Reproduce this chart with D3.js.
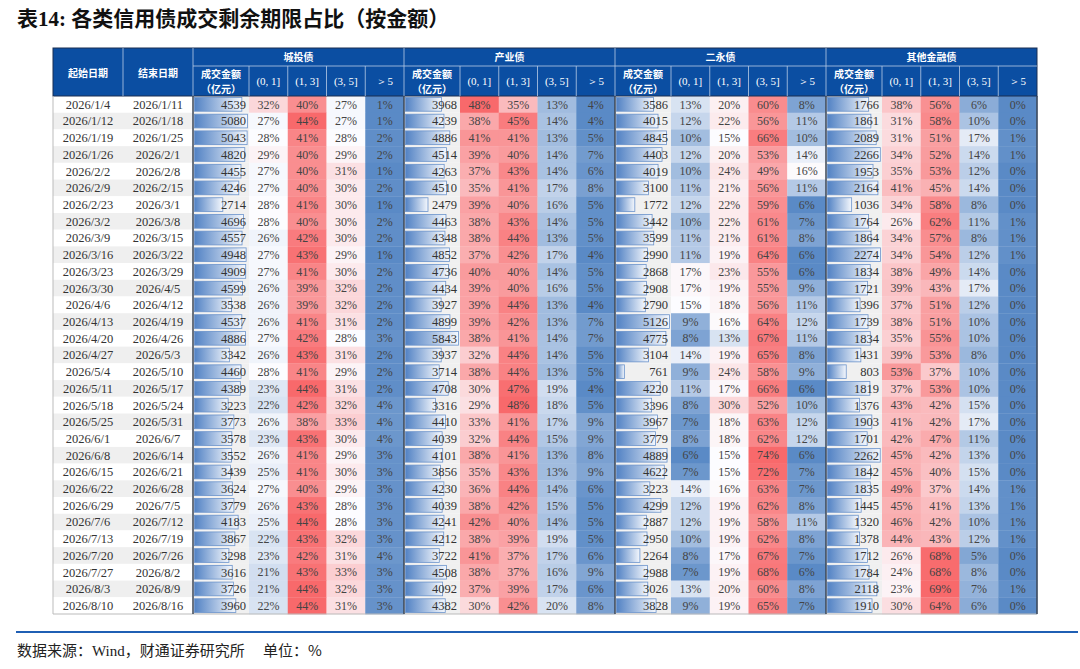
<!DOCTYPE html>
<html>
<head>
<meta charset="utf-8">
<script src="https://cdn.jsdelivr.net/npm/d3@7"></script>
<style>
  body { margin: 0; background: #fff; }
</style>
</head>
<body>
<svg id="chart" width="1080" height="669"></svg>
<script>
// ---- data ----
const startDates = ['2026/1/4', '2026/1/12', '2026/1/19', '2026/1/26', '2026/2/2', '2026/2/9', '2026/2/23', '2026/3/2',
    '2026/3/9', '2026/3/16', '2026/3/23', '2026/3/30', '2026/4/6', '2026/4/13', '2026/4/20', '2026/4/27', '2026/5/4',
    '2026/5/11', '2026/5/18', '2026/5/25', '2026/6/1', '2026/6/8', '2026/6/15', '2026/6/22', '2026/6/29', '2026/7/6',
    '2026/7/13', '2026/7/20', '2026/7/27', '2026/8/3', '2026/8/10'];
const endDates = ['2026/1/11', '2026/1/18', '2026/1/25', '2026/2/1', '2026/2/8', '2026/2/15', '2026/3/1', '2026/3/8',
    '2026/3/15', '2026/3/22', '2026/3/29', '2026/4/5', '2026/4/12', '2026/4/19', '2026/4/26', '2026/5/3', '2026/5/10',
    '2026/5/17', '2026/5/24', '2026/5/31', '2026/6/7', '2026/6/14', '2026/6/21', '2026/6/28', '2026/7/5', '2026/7/12',
    '2026/7/19', '2026/7/26', '2026/8/2', '2026/8/9', '2026/8/16'];

const groups = ['城投债', '产业债', '二永债', '其他金融债'];
const buckets = ['(0, 1]', '(1, 3]', '(3, 5]', '＞5'];

// 成交金额（亿元）
const ctAmount = [4539, 5080, 5043, 4820, 4455, 4246, 2714, 4696, 4557, 4948, 4909, 4599, 3538, 4537, 4886, 3342,
    4460, 4389, 3223, 3773, 3578, 3552, 3439, 3624, 3779, 4183, 3867, 3298, 3616, 3726, 3960];
const cyAmount = [3968, 4239, 4886, 4514, 4263, 4510, 2479, 4463, 4348, 4852, 4736, 4434, 3927, 4899, 5843, 3937,
    3714, 4708, 3316, 4410, 4039, 4101, 3856, 4230, 4039, 4241, 4212, 3722, 4508, 4092, 4382];
const eyAmount = [3586, 4015, 4845, 4403, 4019, 3100, 1772, 3442, 3599, 2990, 2868, 2908, 2790, 5126, 4775, 3104,
    761, 4220, 3396, 3967, 3779, 4889, 4622, 3223, 4299, 2887, 2950, 2264, 2988, 3026, 3828];
const qtAmount = [1766, 1861, 2089, 2266, 1953, 2164, 1036, 1764, 1864, 2274, 1834, 1721, 1396, 1739, 1834, 1431,
    803, 1819, 1376, 1903, 1701, 2262, 1842, 1835, 1445, 1320, 1378, 1712, 1784, 2118, 1910];

// 剩余期限占比（%），每行依次为 (0,1] (1,3] (3,5] >5
const ctShare = [[32, 40, 27, 1], [27, 44, 27, 1], [28, 41, 28, 2], [29, 40, 29, 2], [27, 40, 31, 1], [27, 40, 30, 2],
    [28, 41, 30, 1], [28, 40, 30, 2], [26, 42, 30, 2], [27, 43, 29, 1], [27, 41, 30, 2], [26, 39, 32, 2], [26, 39, 32, 2],
    [26, 41, 31, 2], [27, 42, 28, 3], [26, 43, 31, 2], [28, 41, 29, 2], [23, 44, 31, 2], [22, 42, 32, 4], [26, 38, 33, 4],
    [23, 43, 30, 4], [26, 41, 29, 3], [25, 41, 30, 3], [27, 40, 29, 3], [26, 43, 28, 3], [25, 44, 28, 3], [22, 43, 32, 3],
    [23, 42, 31, 4], [21, 43, 33, 3], [21, 44, 32, 3], [22, 44, 31, 3]];
const cyShare = [[48, 35, 13, 4], [38, 45, 14, 4], [41, 41, 13, 5], [39, 40, 14, 7], [37, 43, 14, 6], [35, 41, 17, 8],
    [39, 40, 16, 5], [38, 43, 14, 5], [38, 44, 13, 5], [37, 42, 17, 4], [40, 40, 14, 5], [39, 40, 16, 5], [39, 44, 13, 4],
    [39, 42, 13, 7], [38, 41, 14, 7], [32, 44, 14, 5], [38, 44, 13, 5], [30, 47, 19, 4], [29, 48, 18, 5], [33, 41, 17, 9],
    [32, 44, 15, 9], [38, 41, 13, 8], [35, 43, 13, 9], [36, 44, 14, 6], [38, 42, 15, 5], [42, 40, 14, 5], [38, 39, 19, 5],
    [41, 37, 17, 6], [38, 37, 16, 9], [37, 39, 17, 6], [30, 42, 20, 8]];
const eyShare = [[13, 20, 60, 8], [12, 22, 56, 11], [10, 15, 66, 10], [12, 20, 53, 14], [10, 24, 49, 16], [11, 21, 56, 11],
    [12, 22, 59, 6], [10, 22, 61, 7], [11, 21, 61, 8], [11, 19, 64, 6], [17, 23, 55, 6], [17, 19, 55, 9], [15, 18, 56, 11],
    [9, 16, 64, 12], [8, 13, 67, 11], [14, 19, 65, 8], [9, 24, 58, 9], [11, 17, 66, 6], [8, 30, 52, 10], [7, 18, 63, 12],
    [8, 18, 62, 12], [6, 15, 74, 6], [7, 15, 72, 7], [14, 16, 63, 7], [12, 19, 62, 8], [12, 19, 58, 11], [10, 19, 62, 8],
    [8, 17, 67, 7], [7, 19, 68, 6], [13, 20, 60, 8], [9, 19, 65, 7]];
const qtShare = [[38, 56, 6, 0], [31, 58, 10, 0], [31, 51, 17, 1], [34, 52, 14, 1], [35, 53, 12, 0], [41, 45, 14, 0],
    [34, 58, 8, 0], [26, 62, 11, 1], [34, 57, 8, 1], [34, 54, 12, 1], [38, 49, 14, 0], [39, 43, 17, 0], [37, 51, 12, 0],
    [38, 51, 10, 0], [35, 55, 10, 0], [39, 53, 8, 0], [53, 37, 10, 0], [37, 53, 10, 0], [43, 42, 15, 0], [41, 42, 17, 0],
    [42, 47, 11, 0], [45, 42, 13, 0], [45, 40, 15, 0], [49, 37, 14, 1], [45, 41, 13, 1], [46, 42, 10, 1], [44, 43, 12, 1],
    [26, 68, 5, 0], [24, 68, 8, 0], [23, 69, 7, 1], [30, 64, 6, 0]];

const groupData = [
    { name: groups[0], amount: ctAmount, share: ctShare },
    { name: groups[1], amount: cyAmount, share: cyShare },
    { name: groups[2], amount: eyAmount, share: eyShare },
    { name: groups[3], amount: qtAmount, share: qtShare }
];

// ---- layout ----
const tableLeft = 53, tableRight = 1037;
const headTop = 48, groupRowBottom = 66, headBottom = 96, bodyBottom = 614;
const dateW = 70, amtW = 56;
const headBlue = '#0b4ea2';
const cnFont = '"Noto Sans CJK SC", sans-serif';
const numFont = '"Liberation Serif", "DejaVu Serif", serif';

const svg = d3.select('#chart');

const y = d3.scaleBand()
    .domain(d3.range(startDates.length))
    .range([headBottom, bodyBottom]);

const xGroup = d3.scaleBand()
    .domain(groups)
    .range([tableLeft + 2 * dateW, tableRight]);

const xBucket = d3.scaleBand()
    .domain(buckets)
    .range([amtW, xGroup.bandwidth()]);

const defs = svg.append('defs');
const grad = defs.append('linearGradient').attr('id', 'barGrad');
grad.append('stop').attr('offset', '0%').attr('stop-color', '#5282c4');
grad.append('stop').attr('offset', '100%').attr('stop-color', '#f5f8fd');

svg.append('rect').attr('width', 1080).attr('height', 669).attr('fill', '#fff');

// title
const title = svg.append('text')
    .attr('x', 17).attr('y', 26)
    .attr('font-family', cnFont)
    .attr('font-weight', 'bold')
    .attr('font-size', 21)
    .attr('fill', '#111');
title.append('tspan').text('表');
title.append('tspan').attr('font-family', numFont).text('14: ');
title.append('tspan').text('各类信用债成交剩余期限占比（按金额）');

// date columns
const dateCols = [startDates, endDates];
dateCols.forEach((col, c) => {
    const g = svg.append('g').attr('transform', `translate(${tableLeft + c * dateW}, 0)`);
    g.selectAll('rect')
        .data(col)
        .enter()
            .append('rect')
                .attr('y', (d, i) => y(i))
                .attr('width', dateW)
                .attr('height', y.bandwidth())
                .attr('fill', (d, i) => (i % 2 ? '#efefef' : '#fff'));
    g.selectAll('text')
        .data(col)
        .enter()
            .append('text')
                .attr('x', dateW / 2)
                .attr('y', (d, i) => y(i) + y.bandwidth() / 2)
                .attr('dy', '0.35em')
                .attr('text-anchor', 'middle')
                .attr('font-family', numFont)
                .attr('font-size', 12.5)
                .attr('fill', '#333')
                .text((d) => d);
});

// group blocks
groupData.forEach((grp) => {
    const gx = xGroup(grp.name);
    const g = svg.append('g').attr('transform', `translate(${gx}, 0)`);

    const bar = d3.scaleLinear()
        .domain([0, d3.max(grp.amount)])
        .range([0, amtW - 3]);

    const allShares = grp.share.flat();
    const color = d3.scaleLinear()
        .domain([d3.min(allShares), d3.quantile(allShares, 0.5), d3.max(allShares)])
        .range(['#5a8ac6', '#fcfcff', '#f8696b']);

    g.selectAll('.amt-bg')
        .data(grp.amount)
        .enter()
            .append('rect')
                .attr('class', 'amt-bg')
                .attr('y', (d, i) => y(i))
                .attr('width', amtW)
                .attr('height', y.bandwidth())
                .attr('fill', '#f0f0f0');

    g.selectAll('.amt-bar')
        .data(grp.amount)
        .enter()
            .append('rect')
                .attr('class', 'amt-bar')
                .attr('x', 1.5)
                .attr('y', (d, i) => y(i) + 1.5)
                .attr('width', (d) => bar(d))
                .attr('height', y.bandwidth() - 3)
                .attr('fill', 'url(#barGrad)')
                .attr('stroke', '#6b93cb')
                .attr('stroke-width', 0.8);

    g.selectAll('.amt-label')
        .data(grp.amount)
        .enter()
            .append('text')
                .attr('class', 'amt-label')
                .attr('x', amtW - 3)
                .attr('y', (d, i) => y(i) + y.bandwidth() / 2)
                .attr('dy', '0.35em')
                .attr('text-anchor', 'end')
                .attr('font-family', numFont)
                .attr('font-size', 12.5)
                .attr('fill', '#333')
                .text((d) => d);

    const cells = grp.share.flatMap((row, i) => row.map((v, j) => ({ i, b: buckets[j], v })));

    g.selectAll('.pct-cell')
        .data(cells)
        .enter()
            .append('rect')
                .attr('class', 'pct-cell')
                .attr('x', (d) => xBucket(d.b))
                .attr('y', (d) => y(d.i))
                .attr('width', xBucket.bandwidth() + 0.3)
                .attr('height', y.bandwidth() + 0.3)
                .attr('fill', (d) => color(d.v));

    g.selectAll('.pct-label')
        .data(cells)
        .enter()
            .append('text')
                .attr('class', 'pct-label')
                .attr('x', (d) => xBucket(d.b) + xBucket.bandwidth() / 2)
                .attr('y', (d) => y(d.i) + y.bandwidth() / 2)
                .attr('dy', '0.35em')
                .attr('text-anchor', 'middle')
                .attr('font-family', numFont)
                .attr('font-size', 12)
                .attr('fill', '#444')
                .text((d) => `${d.v}%`);
});

// header
const head = svg.append('g');
head.append('rect')
    .attr('x', tableLeft)
    .attr('y', headTop)
    .attr('width', tableRight - tableLeft)
    .attr('height', headBottom - headTop)
    .attr('fill', headBlue)
    .attr('stroke', '#1a2f52')
    .attr('stroke-width', 1);

const headText = (x, yy, txt, size, font) => head.append('text')
    .attr('x', x).attr('y', yy)
    .attr('dy', '0.35em')
    .attr('text-anchor', 'middle')
    .attr('font-family', font)
    .attr('font-weight', 'bold')
    .attr('font-size', size)
    .attr('fill', '#fff')
    .text(txt);

['起始日期', '结束日期'].forEach((t, c) => headText(tableLeft + c * dateW + dateW / 2, 73, t, 10, cnFont));

const lineColor = '#b9cbe6';
const headLine = (x1, y1, x2, y2) => head.append('line')
    .attr('x1', x1).attr('y1', y1).attr('x2', x2).attr('y2', y2)
    .attr('stroke', lineColor)
    .attr('stroke-width', 0.8);

headLine(tableLeft + dateW, headTop, tableLeft + dateW, headBottom);
headLine(xGroup.range()[0], groupRowBottom, tableRight, groupRowBottom);

groups.forEach((name) => {
    const gx = xGroup(name);
    headText(gx + xGroup.bandwidth() / 2, 57, name, 10, cnFont);
    headText(gx + amtW / 2, 74, '成交金额', 10, cnFont);
    headText(gx + amtW / 2, 89, '（亿元）', 10, cnFont);
    buckets.forEach((b) => {
        headText(gx + xBucket(b) + xBucket.bandwidth() / 2, 81, b, 11, numFont)
            .attr('font-weight', 'normal');
        headLine(gx + xBucket(b), groupRowBottom, gx + xBucket(b), headBottom);
    });
    headLine(gx, headTop, gx, headBottom);
});

// body borders
svg.append('line')
    .attr('x1', tableLeft).attr('y1', headBottom).attr('x2', tableLeft).attr('y2', bodyBottom)
    .attr('stroke', '#bbb').attr('stroke-width', 1);
svg.append('line')
    .attr('x1', tableLeft).attr('y1', bodyBottom).attr('x2', tableRight).attr('y2', bodyBottom)
    .attr('stroke', '#bbb').attr('stroke-width', 1);

const separators = groups.map((name) => xGroup(name)).concat([tableRight]);
svg.selectAll('.sep')
    .data(separators)
    .enter()
        .append('line')
            .attr('class', 'sep')
            .attr('x1', (d) => d).attr('x2', (d) => d)
            .attr('y1', headBottom).attr('y2', bodyBottom)
            .attr('stroke', '#3b4656')
            .attr('stroke-width', 1.5);

// footer
svg.append('line')
    .attr('x1', 16).attr('y1', 632).attr('x2', 1078).attr('y2', 632)
    .attr('stroke', '#1f5fb4')
    .attr('stroke-width', 2);

const foot = svg.append('text')
    .attr('x', 17).attr('y', 656)
    .attr('font-family', cnFont)
    .attr('font-size', 15)
    .attr('fill', '#222');
foot.append('tspan').text('数据来源：');
foot.append('tspan').attr('font-family', numFont).text('Wind');
foot.append('tspan').text('，财通证券研究所　 单位：%');
</script>
</body>
</html>
